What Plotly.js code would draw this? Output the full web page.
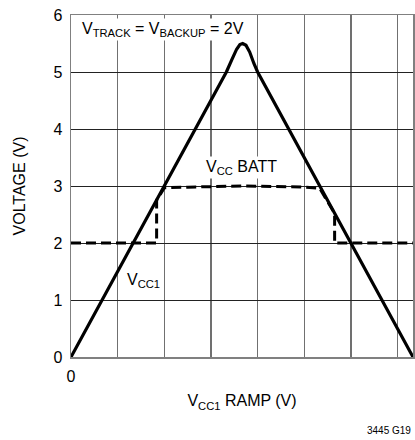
<!DOCTYPE html>
<html><head><meta charset="utf-8">
<script src="https://cdn.plot.ly/plotly-3.0.1.min.js"></script>
<style>html,body{margin:0;padding:0;background:#fff}</style>
</head><body><div id="chart" style="width:415px;height:440px"></div>
<script>
// VCC1 (solid) curve: ramp axis units vs voltage
const vcc1X = [0, 3.33, 3.45, 3.55, 3.62, 3.68, 3.75, 3.83, 3.92, 4.0, 7.33];
const vcc1Y = [0, 5.0, 5.22, 5.40, 5.48, 5.5, 5.47, 5.35, 5.15, 5.0, 0];
// VCC BATT (dashed) curve
const battX = [0, 1.835, 1.835, 2.0, 2.5, 3.0, 3.7, 4.4, 5.0, 5.33, 5.65, 5.65, 7.33];
const battY = [2, 2, 2.75, 2.97, 2.98, 2.99, 3.0, 2.99, 2.98, 2.96, 2.52, 2, 2];
const xTickVals = [0];
const xTickText = ['0'];
const yTickVals = [0, 1, 2, 3, 4, 5, 6];

const F = '"Liberation Sans Narrow", "Liberation Sans", Arial, sans-serif';

const traces = [
  {x: battX, y: battY, mode: 'lines', line: {color: '#000', width: 3, dash: '10px,5px'}, hoverinfo: 'skip'},
  {x: vcc1X, y: vcc1Y, mode: 'lines', line: {color: '#000', width: 3.2}, hoverinfo: 'skip'}
];

const layout = {
  width: 415, height: 440,
  margin: {l: 71, r: 2, t: 15, b: 83},
  paper_bgcolor: '#fff', plot_bgcolor: '#fff',
  showlegend: false,
  font: {family: F, size: 16, color: '#000'},
  xaxis: {
    range: [0, 7.33], tickmode: 'array', tickvals: xTickVals, ticktext: xTickText,
    showgrid: false, zeroline: false,
    minor: {tickmode: 'linear', tick0: 0, dtick: 1, showgrid: true, gridcolor: '#707070', gridwidth: 1.2, ticks: ''},
    showline: true, mirror: true, linecolor: '#808080', linewidth: 1.5,
    ticks: '', ticklabelstandoff: 4,
    tickfont: {family: F, size: 16},
    title: {text: 'V<sub>CC1</sub> RAMP (V)', font: {family: F, size: 16}, standoff: 11},
    fixedrange: true
  },
  yaxis: {
    range: [0, 6], tickmode: 'array', tickvals: yTickVals,
    showgrid: true, gridcolor: '#222', gridwidth: 1, zeroline: false,
    showline: true, mirror: true, linecolor: '#808080', linewidth: 1.5,
    ticks: '', ticklabelstandoff: 4,
    tickfont: {family: F, size: 16},
    title: {text: 'VOLTAGE (V)', font: {family: F, size: 16}, standoff: 24},
    fixedrange: true
  },
  annotations: [
    {xref: 'paper', yref: 'paper', x: 0.025, y: 0.99, xanchor: 'left', yanchor: 'top', showarrow: false,
     text: 'V<sub>TRACK</sub> = V<sub>BACKUP</sub> = 2V', font: {family: F, size: 16}, bgcolor: '#fff'},
    {xref: 'x', yref: 'y', x: 2.85, y: 3.32, xanchor: 'left', yanchor: 'middle', showarrow: false,
     text: 'V<sub>CC</sub> BATT', font: {family: F, size: 16}, bgcolor: '#fff'},
    {xref: 'x', yref: 'y', x: 1.15, y: 1.35, xanchor: 'left', yanchor: 'middle', showarrow: false,
     text: 'V<sub>CC1</sub>', font: {family: F, size: 16}, bgcolor: '#fff'},
    {xref: 'paper', yref: 'paper', x: 1.0, y: -0.215, xanchor: 'right', yanchor: 'middle', showarrow: false,
     text: '3445 G19', font: {family: F, size: 10}}
  ]
};

Plotly.newPlot('chart', traces, layout, {displayModeBar: false, staticPlot: true});
</script></body></html>
